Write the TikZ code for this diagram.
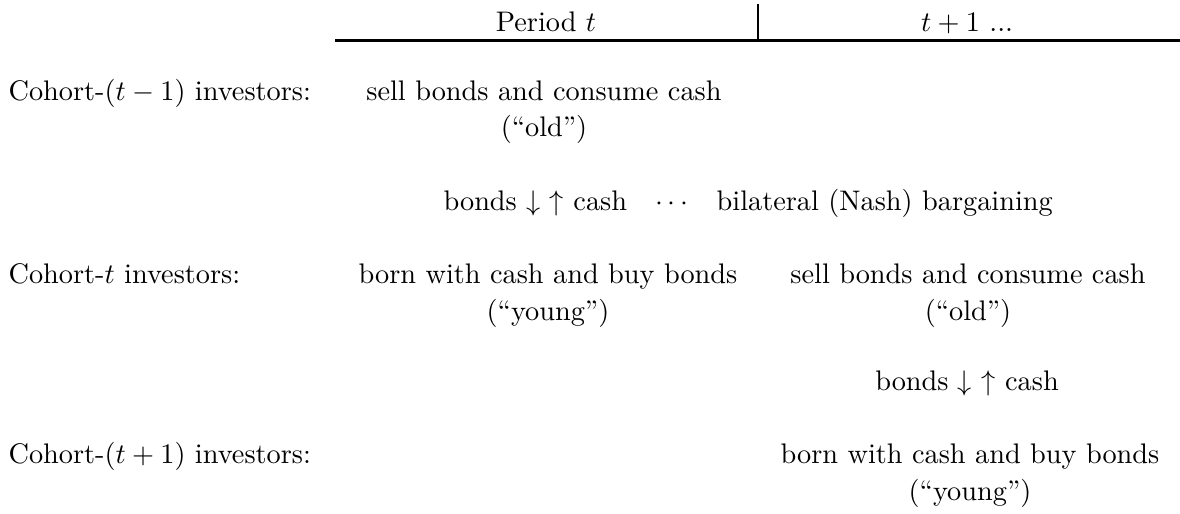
\documentclass[tikz,border=0pt]{standalone}
\begin{document}
\begin{tikzpicture}[x=0.3533pt,y=-0.3533pt,
  txt/.style={inner sep=0pt, anchor=base},
  lbl/.style={inner sep=0pt, anchor=base west}]
\useasboundingbox (0,0) rectangle (1180,513);
% header
\node[txt] (h1) at (546,31) {Period $t$};
\node[txt] (h2) at (967,31) {$t+1$ ...};
\coordinate (rl) at (335,40.5);
\coordinate (rr) at (1180,40.5);
\draw[line width=0.75pt] (rl) -- (rr);
\coordinate (vt) at (758,4);
\coordinate (vb) at (758,40);
\draw[line width=0.4pt] (vt) -- (vb);
% cohort t-1
\node[lbl] (c1) at (8,100) {Cohort-$(t-1)$ investors:};
\node[txt] (a1) at (544,100) {sell bonds and consume cash};
\node[txt] (a1b) at (544,136) {(``old'')};
\node[lbl] (x1) at (443,210) {bonds $\downarrow$ $\uparrow$ cash$\quad\cdots\quad$bilateral (Nash) bargaining};
% cohort t
\node[lbl] (c2) at (8,283) {Cohort-$t$ investors:};
\node[txt] (b1) at (548,283) {born with cash and buy bonds};
\node[txt] (b1b) at (548,320) {(``young'')};
\node[txt] (b2) at (968,283) {sell bonds and consume cash};
\node[txt] (b2b) at (968,320) {(``old'')};
\node[txt] (x2) at (967,390) {bonds $\downarrow$ $\uparrow$ cash};
% cohort t+1
\node[lbl] (c3) at (8,463) {Cohort-$(t+1)$ investors:};
\node[txt] (d2) at (970,463) {born with cash and buy bonds};
\node[txt] (d2b) at (970,500) {(``young'')};
\end{tikzpicture}
\end{document}
